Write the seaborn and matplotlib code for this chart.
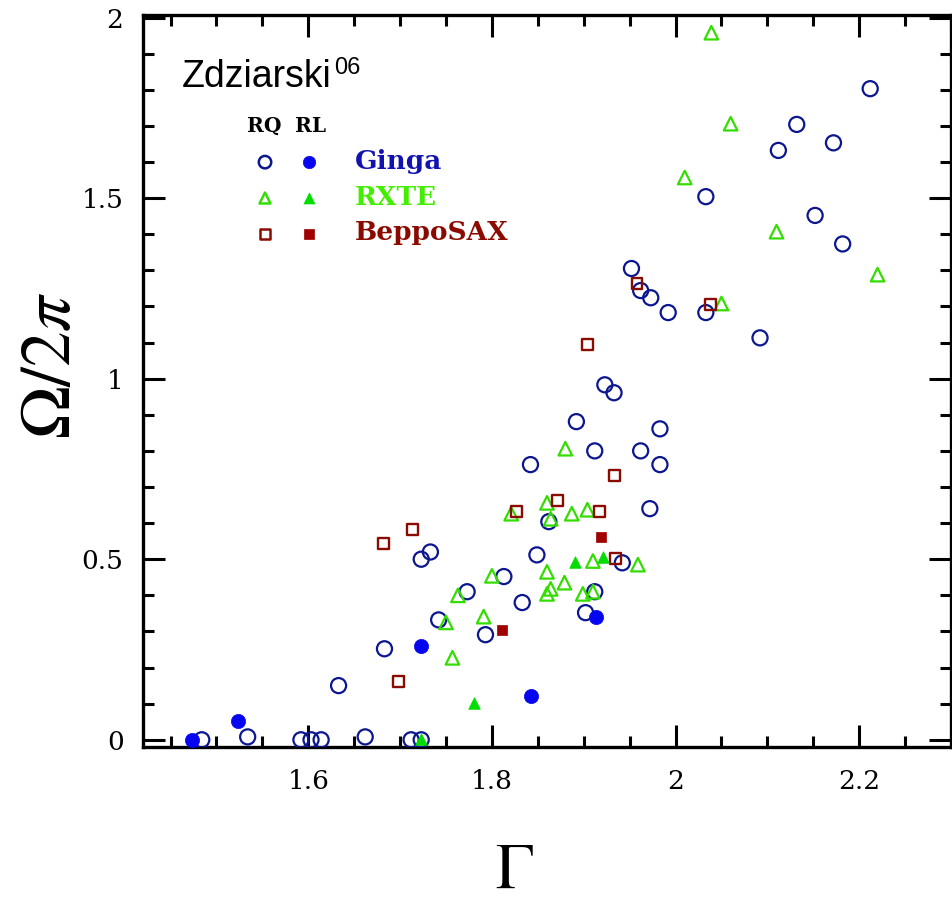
import numpy as np
import pandas as pd
import matplotlib
matplotlib.use("Agg")
import matplotlib.pyplot as plt
import seaborn as sns
from matplotlib.ticker import MultipleLocator, FuncFormatter

# ---------------- data ----------------
ginga_rq_gamma = [1.484, 1.534, 1.592, 1.603, 1.614, 1.662, 1.712, 1.723, 1.633, 1.683,
                  1.723, 1.733, 1.742, 1.773, 1.793, 1.813, 1.833, 1.849, 1.862, 1.842,
                  1.892, 1.902, 1.912, 1.912, 1.923, 1.933, 1.942, 1.962, 1.972, 1.983,
                  1.983, 1.952, 1.962, 1.973, 1.992, 2.033, 2.033, 2.092, 2.112, 2.132,
                  2.152, 2.172, 2.182, 2.212]
ginga_rq_omega = [0.0, 0.008, 0.0, 0.0, 0.0, 0.008, 0.0, 0.0, 0.15, 0.252,
                  0.50, 0.52, 0.332, 0.41, 0.291, 0.452, 0.38, 0.512, 0.604, 0.762,
                  0.881, 0.352, 0.41, 0.80, 0.983, 0.961, 0.49, 0.80, 0.64, 0.762,
                  0.861, 1.305, 1.244, 1.224, 1.183, 1.183, 1.504, 1.113, 1.632, 1.704,
                  1.452, 1.653, 1.373, 1.803]

ginga_rl_gamma = [1.473, 1.523, 1.723, 1.843, 1.913]
ginga_rl_omega = [0.0, 0.052, 0.26, 0.122, 0.341]

rxte_rq_gamma = [2.039, 2.060, 2.010, 2.110, 2.220, 2.050, 1.880, 1.860, 1.821, 1.864,
                 1.887, 1.904, 1.910, 1.959, 1.860, 1.800, 1.879, 1.763, 1.864, 1.860,
                 1.899, 1.910, 1.750, 1.791, 1.757]
rxte_rq_omega = [1.958, 1.706, 1.557, 1.407, 1.288, 1.208, 0.806, 0.656, 0.626, 0.612,
                 0.626, 0.637, 0.495, 0.485, 0.465, 0.454, 0.435, 0.40, 0.418, 0.404,
                 0.404, 0.41, 0.325, 0.341, 0.227]

rxte_rl_gamma = [1.723, 1.780, 1.890, 1.921]
rxte_rl_omega = [0.003, 0.102, 0.493, 0.507]

sax_rq_gamma = [1.698, 1.682, 1.714, 1.827, 1.871, 1.917, 1.935, 1.934, 1.904, 1.958, 2.038]
sax_rq_omega = [0.161, 0.543, 0.582, 0.632, 0.662, 0.632, 0.501, 0.731, 1.094, 1.263, 1.205]

sax_rl_gamma = [1.811, 1.919]
sax_rl_omega = [0.303, 0.562]

x_ticks = [1.6, 1.8, 2.0, 2.2]
y_ticks = [0, 0.5, 1, 1.5, 2]

# ---------------- styling ----------------
sns.set_style("ticks")
plt.rcParams['mathtext.fontset'] = 'stix'
plt.rcParams['text.color'] = 'black'
plt.rcParams['axes.labelcolor'] = 'black'

C_GINGA_OPEN = "#0b168f"
C_GINGA_FILL = "#0505f0"
C_RXTE_OPEN = "#33dd00"
C_RXTE_FILL = "#00dd00"
C_SAX_OPEN = "#8a0c00"
C_SAX_FILL = "#a00000"

fig = plt.figure(figsize=(9.52, 9.0), dpi=100)
ax = fig.add_axes([143 / 952, 1 - 747 / 900, 808 / 952, 732 / 900])

series = [
    (ginga_rq_gamma, ginga_rq_omega, 'o', 'none', C_GINGA_OPEN, 118, 1.6),
    (rxte_rq_gamma, rxte_rq_omega, '^', 'none', C_RXTE_OPEN, 95, 1.6),
    (sax_rq_gamma, sax_rq_omega, 's', 'none', C_SAX_OPEN, 62, 1.7),
    (ginga_rl_gamma, ginga_rl_omega, 'o', C_GINGA_FILL, C_GINGA_FILL, 105, 0.5),
    (rxte_rl_gamma, rxte_rl_omega, '^', C_RXTE_FILL, C_RXTE_FILL, 70, 0.5),
    (sax_rl_gamma, sax_rl_omega, 's', C_SAX_FILL, C_SAX_FILL, 58, 0.5),
]
for xs, ys, m, fc, ec, s, lw in series:
    sns.scatterplot(x=xs, y=ys, marker=m, s=s, facecolor=fc, edgecolor=ec,
                    linewidth=lw, ax=ax, legend=False, zorder=3)

ax.set_xlim(1.42, 2.3)
ax.set_ylim(-0.02, 2.007)
ax.set_xticks(x_ticks)
ax.set_yticks(y_ticks)
ax.xaxis.set_minor_locator(MultipleLocator(0.05))
ax.yaxis.set_minor_locator(MultipleLocator(0.1))
fmt = FuncFormatter(lambda v, p: f"{v:g}")
ax.xaxis.set_major_formatter(fmt)
ax.yaxis.set_major_formatter(fmt)

ax.tick_params(which='both', direction='in', top=True, right=True, width=2.2,
               colors='black', labelsize=19, labelfontfamily='DejaVu Serif')
ax.tick_params(which='major', length=16)
ax.tick_params(which='minor', length=8)
ax.tick_params(axis='x', which='major', pad=16)
ax.tick_params(axis='y', which='major', pad=14)
for sp in ax.spines.values():
    sp.set_linewidth(2.4)
    sp.set_color('black')

ax.set_xlabel(r'$\Gamma$', fontsize=46)
ax.set_ylabel(r'$\Omega/2\pi$', fontsize=51)
ax.xaxis.label.set_va('center')
ax.yaxis.label.set_va('center')
ax.xaxis.set_label_coords(0.46, -0.168)
ax.yaxis.set_label_coords(-0.115, 0.522)

# ---------------- annotations / legend ----------------
T = ax.transAxes
ax.text(0.048, 0.9016, "Zdziarski", transform=T, fontsize=27, color='black',
        family='Liberation Sans', va='baseline', ha='left')
ax.text(0.237, 0.919, "06", transform=T, fontsize=17, color='black',
        family='Liberation Sans', va='baseline', ha='left')

ax.text(0.1287, 0.840, "RQ", transform=T, fontsize=14.5, fontweight='bold',
        color='black', family='DejaVu Serif', va='baseline', ha='left')
ax.text(0.188, 0.840, "RL", transform=T, fontsize=14.5, fontweight='bold',
        color='black', family='DejaVu Serif', va='baseline', ha='left')

leg_rows = [
    (0.799, 'o', C_GINGA_OPEN, C_GINGA_FILL, 80, "Ginga", "#1212b0", 0.7896),
    (0.750, '^', C_RXTE_OPEN, C_RXTE_FILL, 62, "RXTE", "#44ee00", 0.7404),
    (0.7008, 's', C_SAX_OPEN, C_SAX_FILL, 44, "BeppoSAX", "#8b0a00", 0.6926),
]
for yy, m, co, cf, s, lab, tc, yb in leg_rows:
    ax.scatter([0.151], [yy], marker=m, s=s, facecolor='none', edgecolor=co,
               linewidth=1.8, transform=T, clip_on=False, zorder=4)
    ax.scatter([0.2054], [yy], marker=m, s=s, facecolor=cf, edgecolor=cf,
               linewidth=0.5, transform=T, clip_on=False, zorder=4)
    ax.text(0.2624, yb, lab, transform=T, fontsize=19, fontweight='bold',
            family='DejaVu Serif', color=tc, va='baseline', ha='left')

fig.savefig("out.png", dpi=100)
